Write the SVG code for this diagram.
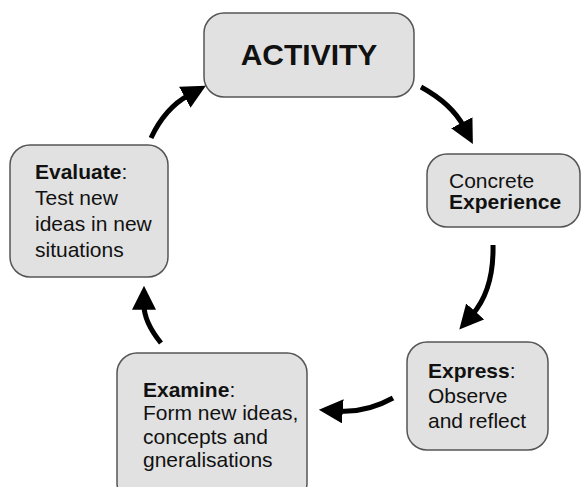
<svg xmlns="http://www.w3.org/2000/svg" width="584" height="487" viewBox="0 0 584 487">
<style>
.box{fill:#e1e1e1;stroke:#555;stroke-width:1.5}
.t{font-family:"Liberation Sans",Arial,sans-serif;font-size:21px;fill:#111}
.b{font-weight:bold}
.arr{fill:none;stroke:#000;stroke-width:5;marker-end:url(#ah)}
</style>
<defs>
<marker id="ah" markerUnits="userSpaceOnUse" markerWidth="24" markerHeight="24" viewBox="0 0 20 20" refX="4" refY="10" orient="auto">
<path d="M0,0 L20,10 L0,20 Z" fill="#000"/>
</marker>
</defs>
<rect width="584" height="487" fill="#fff"/>
<g id="activity">
<rect class="box" x="204" y="13" width="210" height="84" rx="20"/>
<text class="t b" x="309" y="65" font-size="30" text-anchor="middle" style="font-size:30px">ACTIVITY</text>
</g>
<g id="concrete">
<rect class="box" x="427" y="154" width="153" height="73" rx="20"/>
<text class="t" x="449" y="188">Concrete</text>
<text class="t b" x="449" y="209">Experience</text>
</g>
<g id="express">
<rect class="box" x="407" y="342" width="141" height="108" rx="20"/>
<text class="t" x="428" y="378"><tspan class="b">Express</tspan>:</text>
<text class="t" x="428" y="403">Observe</text>
<text class="t" x="428" y="428">and reflect</text>
</g>
<g id="examine">
<rect class="box" x="117" y="353" width="190" height="150" rx="20"/>
<text class="t" x="143" y="397"><tspan class="b">Examine</tspan>:</text>
<text class="t" x="143" y="420">Form new ideas,</text>
<text class="t" x="143" y="444">concepts and</text>
<text class="t" x="143" y="467">gneralisations</text>
</g>
<g id="evaluate">
<rect class="box" x="10" y="145" width="158" height="132" rx="20"/>
<text class="t" x="35" y="179"><tspan class="b">Evaluate</tspan>:</text>
<text class="t" x="35" y="205">Test new</text>
<text class="t" x="35" y="231">ideas in new</text>
<text class="t" x="35" y="257">situations</text>
</g>
<g id="connectors">
<path class="arr" d="M151,138 Q165,108 189,95"/>
<path class="arr" d="M421,87 Q452,104 464,127"/>
<path class="arr" d="M493,245 Q494,290 472,315"/>
<path class="arr" d="M393,398 Q366,413 338,411"/>
<path class="arr" d="M161,343 Q144,322 144,305"/>
</g>
</svg>
